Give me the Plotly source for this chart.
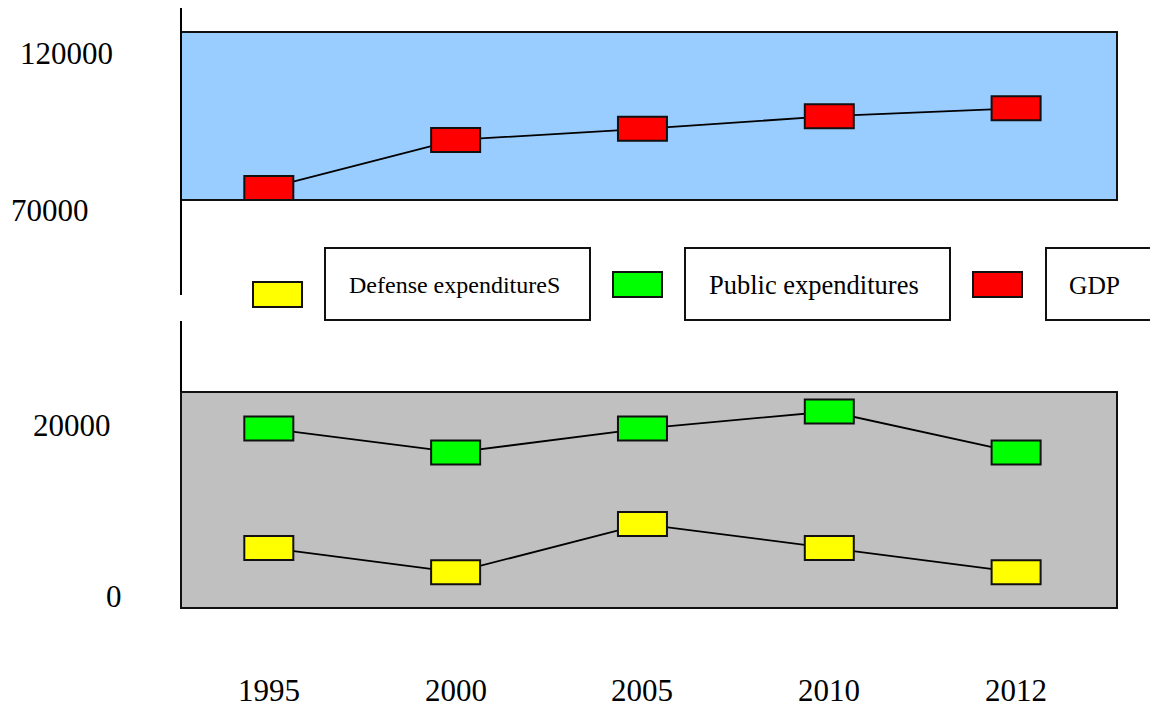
import plotly.graph_objects as go

# ---------------- data ----------------
years = ["1995", "2000", "2005", "2010", "2012"]
gdp = [77300, 92500, 96000, 100000, 102500]
public_exp = [19700, 16900, 19700, 21700, 16900]
defense_exp = [5700, 2850, 8500, 5700, 2850]
series_names = ["Defense expenditureS", "Public expenditures", "GDP"]
series_colors = ["#FFFF00", "#00FF00", "#FF0000"]
upper_tick_labels = [120000, 70000]
lower_tick_labels = [20000, 0]

# ---------------- layout helpers ----------------
W, H = 1158, 706
OFF = 8  # page body margin of the html file
ML = 181 - OFF
MR = W - (1117 - OFF)
PW = W - ML - MR
FONT = "Liberation Serif, Times New Roman, serif"


def pxx(px):
    """page pixel x -> paper x"""
    return (px - OFF - ML) / PW


def pxy(py):
    """page pixel y -> paper y"""
    return (H - (py - OFF)) / H


xpos = list(range(len(years)))  # category index positions

upper_dom = [pxy(200), pxy(32)]
lower_dom = [pxy(608), pxy(392)]
upper_range = [73481, 126646]
lower_range = [-1349, 23988]


def val_to_paper(val, dom, rng):
    """map an axis value to paper y with the axis' own linear scale"""
    return dom[0] + (val - rng[0]) / (rng[1] - rng[0]) * (dom[1] - dom[0])


fig = go.Figure()

line_style = dict(color="black", width=1.8)
fig.add_trace(go.Scatter(x=xpos, y=gdp, mode="lines", line=line_style,
                         xaxis="x", yaxis="y2", name=series_names[2],
                         showlegend=False, hoverinfo="skip"))
fig.add_trace(go.Scatter(x=xpos, y=public_exp, mode="lines", line=line_style,
                         xaxis="x", yaxis="y", name=series_names[1],
                         showlegend=False, hoverinfo="skip"))
fig.add_trace(go.Scatter(x=xpos, y=defense_exp, mode="lines", line=line_style,
                         xaxis="x", yaxis="y", name=series_names[0],
                         showlegend=False, hoverinfo="skip"))

shapes = []
# panel backgrounds
shapes.append(dict(type="rect", xref="paper", yref="paper", x0=0, x1=1,
                   y0=upper_dom[0], y1=upper_dom[1], fillcolor="#99CCFF",
                   line=dict(color="#111111", width=2), layer="below"))
shapes.append(dict(type="rect", xref="paper", yref="paper", x0=0, x1=1,
                   y0=lower_dom[0], y1=lower_dom[1], fillcolor="#C0C0C0",
                   line=dict(color="#111111", width=2), layer="below"))
# broken left axis
for a, b in [(7, 295), (321, 392)]:
    shapes.append(dict(type="line", xref="paper", yref="paper", x0=0, x1=0,
                       y0=pxy(a), y1=pxy(b), line=dict(color="black", width=2)))


def rect_marker(xv, yval, yref, color):
    return dict(type="rect", xref="x", yref=yref, xsizemode="pixel",
                ysizemode="pixel", xanchor=xv, yanchor=yval,
                x0=-24.5, x1=24.5, y0=-12, y1=12, fillcolor=color,
                line=dict(color="#111111", width=2), layer="above")


for xv, v in zip(xpos, gdp):
    shapes.append(rect_marker(xv, v, "y2", series_colors[2]))
for xv, v in zip(xpos, public_exp):
    shapes.append(rect_marker(xv, v, "y", series_colors[1]))
for xv, v in zip(xpos, defense_exp):
    shapes.append(rect_marker(xv, v, "y", series_colors[0]))

# custom legend
legend_items = [
    # marker x0,x1,y0,y1 ; box x0,x1 ; text x ; font size
    ((253, 302, 282, 307), (325, 590), 347, 24),
    ((613, 662, 272, 297), (685, 950), 707, 26.5),
    ((973, 1022, 272, 297), (1046, 1175), 1067, 25.5),
]
annotations = []
for (m, bx, tx, fs), name, col in zip(legend_items, series_names, series_colors):
    shapes.append(dict(type="rect", xref="paper", yref="paper",
                       x0=pxx(m[0]), x1=pxx(m[1]), y0=pxy(m[3]), y1=pxy(m[2]),
                       fillcolor=col, line=dict(color="#111111", width=2)))
    shapes.append(dict(type="rect", xref="paper", yref="paper",
                       x0=pxx(bx[0]), x1=pxx(bx[1]), y0=pxy(320), y1=pxy(248),
                       fillcolor="white", line=dict(color="#111111", width=2)))
    annotations.append(dict(text=name, xref="paper", yref="paper", x=pxx(tx),
                            y=pxy(285), xanchor="left", yanchor="middle",
                            showarrow=False,
                            font=dict(family=FONT, size=fs, color="black")))

# y tick labels (broken axis)
for val, cx in zip(upper_tick_labels, [66, 50]):
    annotations.append(dict(text=str(val), xref="paper", yref="paper", x=pxx(cx),
                            y=val_to_paper(val, upper_dom, upper_range),
                            xanchor="center", yanchor="middle",
                            showarrow=False,
                            font=dict(family=FONT, size=31, color="black")))
for val, cx in zip(lower_tick_labels, [72, 114]):
    annotations.append(dict(text=str(val), xref="paper", yref="paper", x=pxx(cx),
                            y=val_to_paper(val, lower_dom, lower_range),
                            xanchor="center", yanchor="middle",
                            showarrow=False,
                            font=dict(family=FONT, size=31, color="black")))
# x labels
for xv, yr in zip(xpos, years):
    annotations.append(dict(text=yr, xref="x", yref="paper", x=xv, y=pxy(690),
                            xanchor="center", yanchor="middle", showarrow=False,
                            font=dict(family=FONT, size=31, color="black")))

axis_off = dict(showgrid=False, zeroline=False, showline=False,
                showticklabels=False, ticks="", fixedrange=True)

fig.update_layout(
    width=W, height=H,
    margin=dict(l=ML, r=MR, t=0, b=0, autoexpand=False),
    paper_bgcolor="white",
    plot_bgcolor="rgba(0,0,0,0)",
    showlegend=False,
    xaxis=dict(type="linear", range=[-0.47, 4.54], anchor="y", **axis_off),
    yaxis=dict(domain=lower_dom, range=lower_range, anchor="x", **axis_off),
    yaxis2=dict(domain=upper_dom, range=upper_range, anchor="x", **axis_off),
    shapes=shapes,
    annotations=annotations,
    font=dict(family=FONT),
)

fig.write_html("out.html")
